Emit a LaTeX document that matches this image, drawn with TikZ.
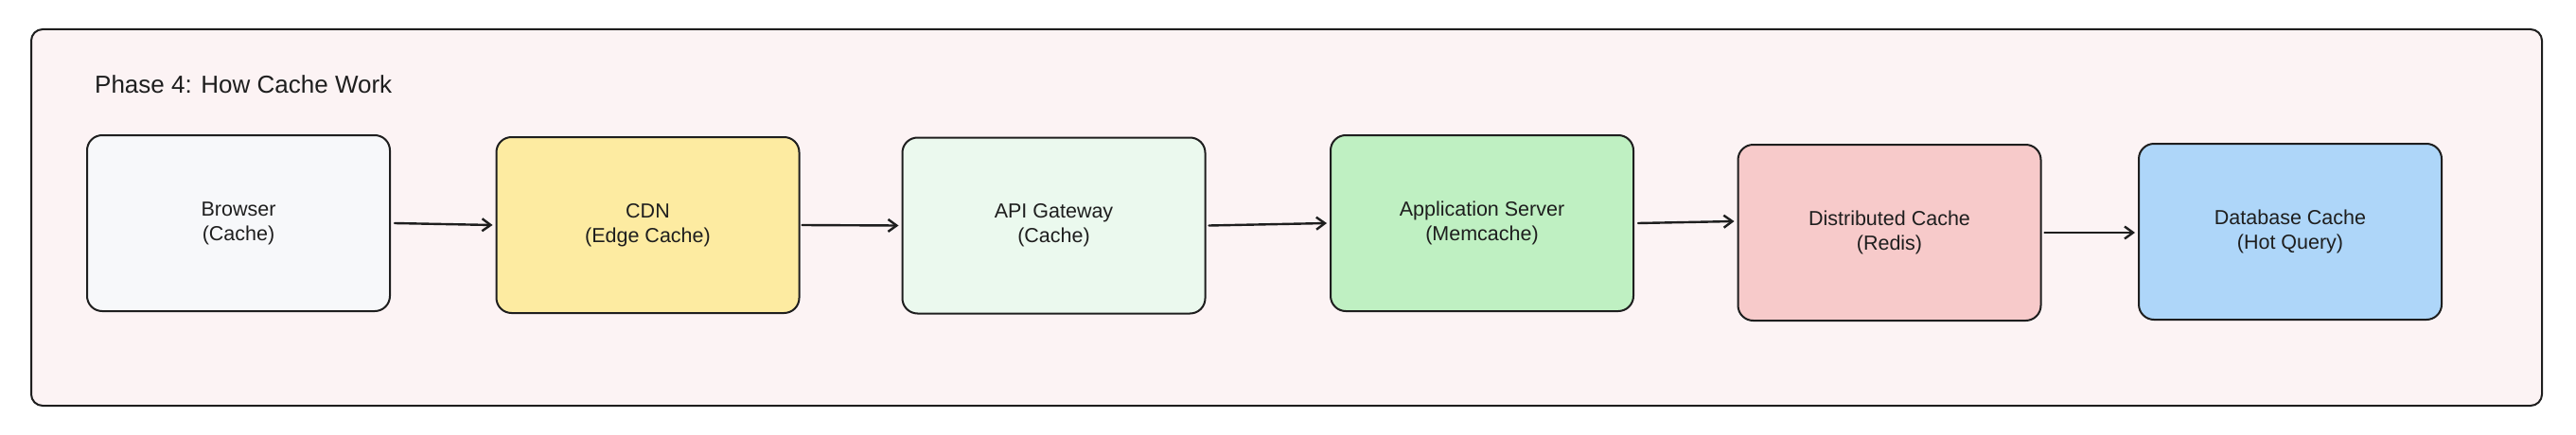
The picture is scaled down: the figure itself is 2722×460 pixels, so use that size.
\documentclass[tikz,border=0pt]{standalone}
\usepackage{fontspec}
\setmainfont{Liberation Sans}
\usetikzlibrary{arrows.meta}
\definecolor{ink}{HTML}{1E1E1E}
\definecolor{framebg}{HTML}{FCF3F4}
\definecolor{cbrowser}{HTML}{F7F8FA}
\definecolor{ccdn}{HTML}{FDEBA1}
\definecolor{capi}{HTML}{EBF9EE}
\definecolor{capp}{HTML}{BFF0C2}
\definecolor{cdist}{HTML}{F7CACA}
\definecolor{cdb}{HTML}{AED6F9}
\begin{document}
\begin{tikzpicture}[x=1pt,y=-1pt,
  frame/.style={draw=ink, line width=2pt, fill=framebg, rounded corners=12pt, inner sep=0pt, minimum width=2653pt, minimum height=398pt},
  box/.style={draw=ink, line width=2pt, rounded corners=16pt, minimum width=320pt, minimum height=186pt, inner sep=0pt, align=center, font=\fontsize{21.5}{26}\selectfont, text=ink},
  flow/.style={draw=ink, line width=2.4pt, line cap=round, -{Straight Barb[length=9pt,width=13pt,line width=2.4pt]}},
  titletext/.style={font=\fontsize{26}{30}\selectfont, text=ink, anchor=base west, inner sep=0pt}]
\useasboundingbox (0,0) rectangle (2722,460);
\node[frame] (frame) at (1359.5,230) {};
\node[titletext] (title) at (100,98) {Phase 4: How Cache Work};
\node[box, fill=cbrowser] (browser) at (252,236) {Browser\\(Cache)};
\node[box, fill=ccdn] (cdn) at (684.5,238) {CDN\\(Edge Cache)};
\node[box, fill=capi] (api) at (1113.5,238.5) {API Gateway\\(Cache)};
\node[box, fill=capp] (app) at (1566,236) {Application Server\\(Memcache)};
\node[box, fill=cdist] (dist) at (1996.5,246) {Distributed Cache\\(Redis)};
\node[box, fill=cdb] (db) at (2420,245) {Database Cache\\(Hot Query)};
\draw[flow] ([xshift=4pt]browser.east) -- ([xshift=-3pt]cdn.west);
\draw[flow] ([xshift=2pt]cdn.east) -- ([xshift=-3pt]api.west);
\draw[flow] ([xshift=3pt]api.east) -- ([xshift=-3pt]app.west);
\draw[flow] ([xshift=4pt]app.east) -- ([xshift=-3pt,yshift=12pt]dist.west);
\draw[flow] ([xshift=3pt]dist.east) -- ([xshift=-3pt,yshift=-1pt]db.west);
\end{tikzpicture}
\end{document}
